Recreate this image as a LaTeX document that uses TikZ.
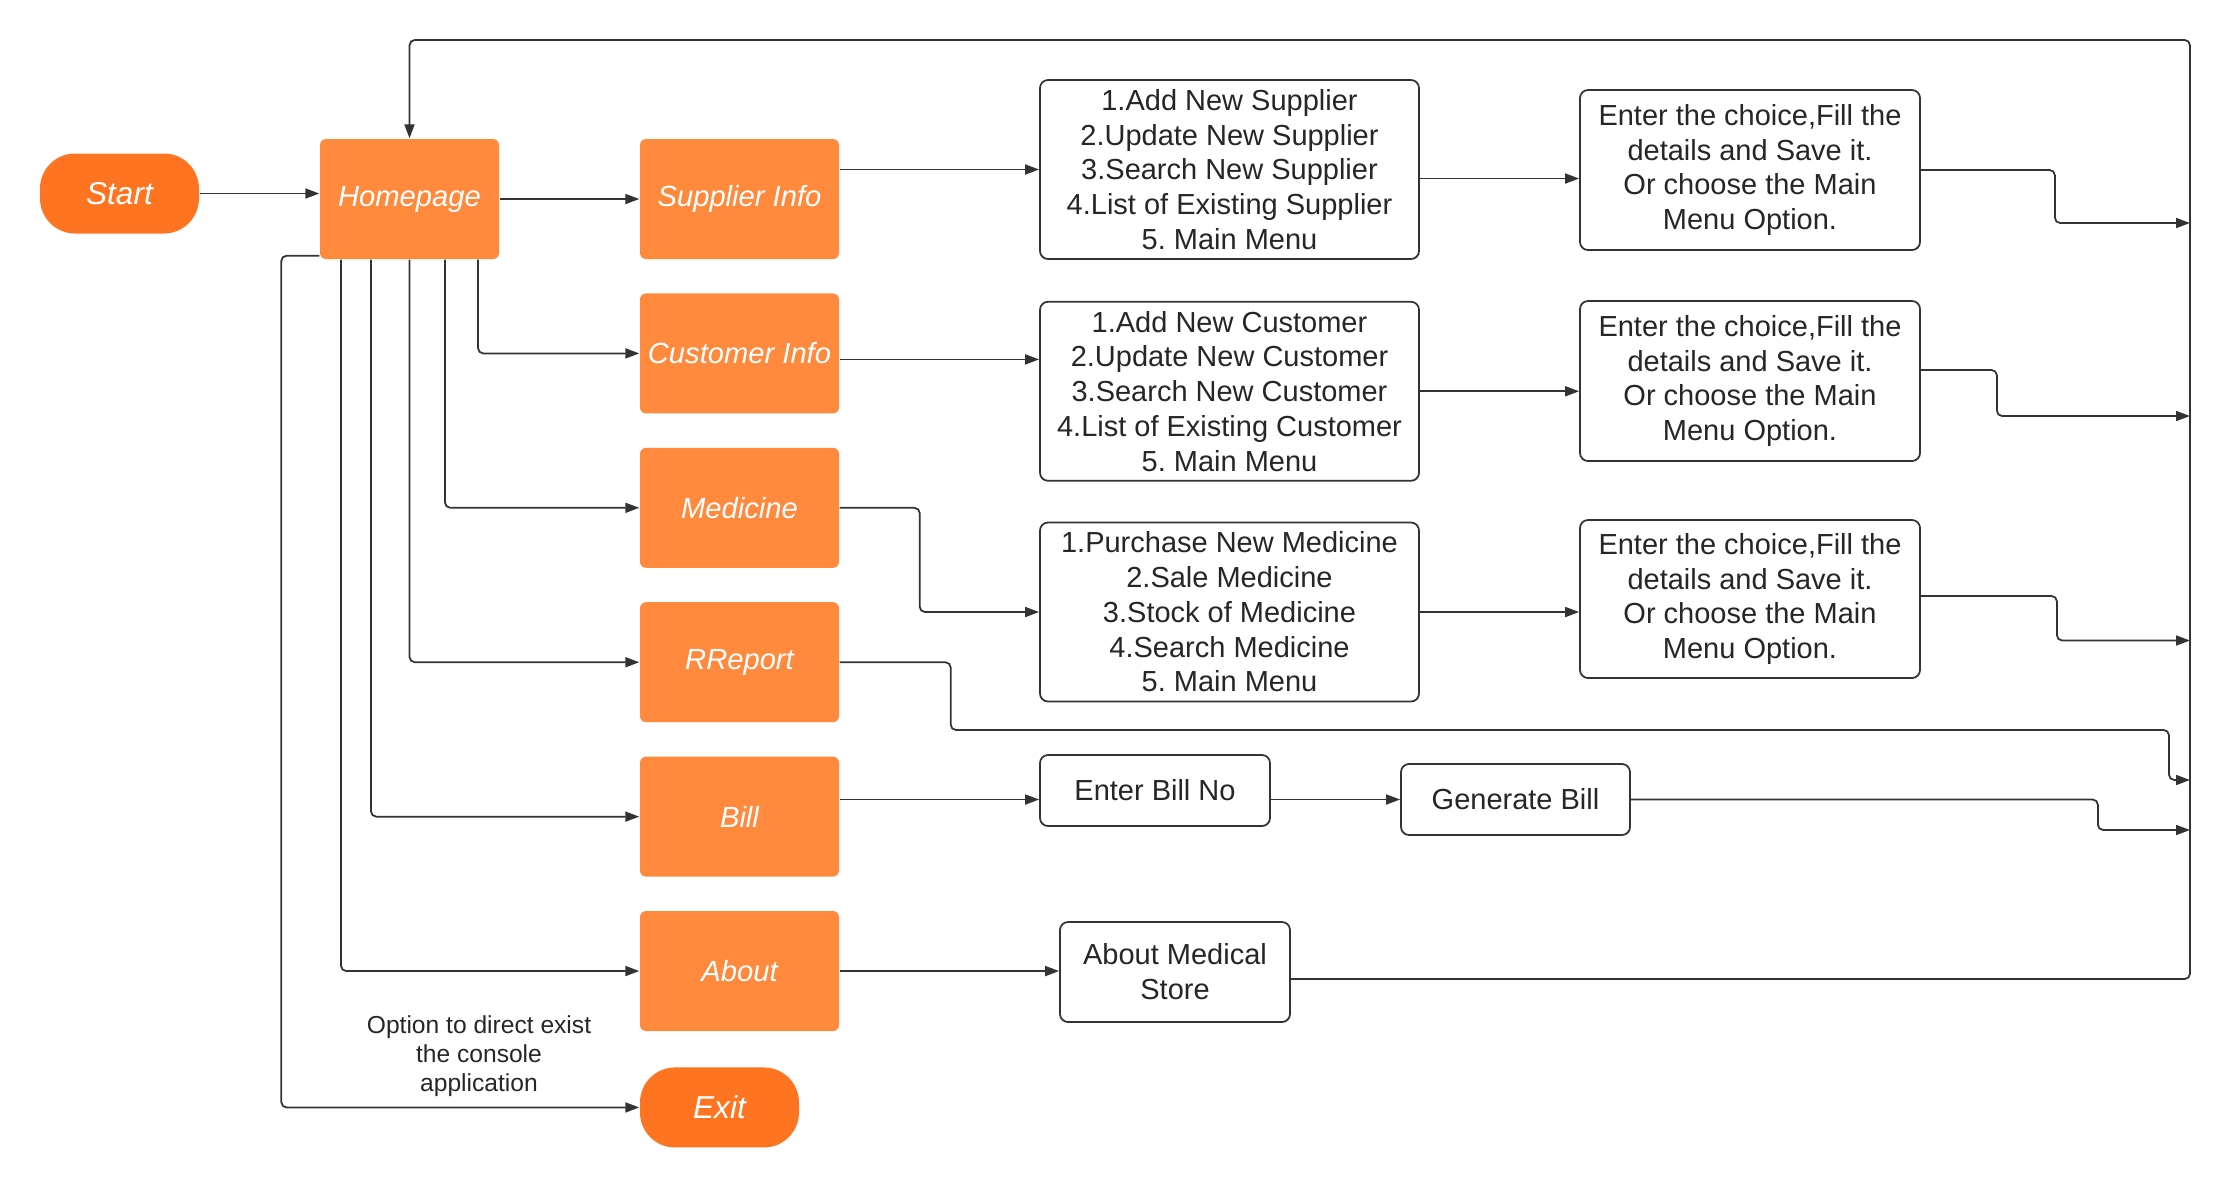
\documentclass[tikz,border=0pt]{standalone}
\usepackage{fontspec}
\setmainfont{Liberation Sans}
\usepackage{tikz}
\usetikzlibrary{arrows.meta,positioning}
\definecolor{boxorange}{HTML}{FF8A3D}
\definecolor{termorange}{HTML}{FF7420}
\definecolor{linegray}{HTML}{333333}
\frenchspacing

\begin{document}
\begin{tikzpicture}[
  term/.style={rectangle, fill=termorange, rounded corners=3.5mm, minimum width=1.59cm, minimum height=0.8cm, inner sep=0pt, text=white, font=\fontsize{9}{11}\selectfont\itshape},
  block/.style={rectangle, fill=boxorange, rounded corners=0.6mm, minimum width=1.99cm, minimum height=1.2cm, inner sep=0pt, text=white, font=\fontsize{8.3}{10}\selectfont\itshape},
  menu/.style={rectangle, draw=linegray, line width=0.5pt, rounded corners=0.8mm, fill=white, inner sep=0pt, align=center, text=black!85, font=\fontsize{8.25}{9.9}\selectfont},
  note/.style={align=center, text=black!85, font=\fontsize{7}{8.3}\selectfont},
  arrow/.style={-{Triangle[length=1.4mm, width=1mm]}, draw=linegray, line width=0.5pt, rounded corners=1.5pt}]
\useasboundingbox (0,0) rectangle (22.3,-11.88);

% left column
\node[term] (start) at (1.195,-1.935) {Start};
\node[block, minimum width=1.79cm] (home) at (4.095,-1.99) {Homepage};
\node[block] (sup) at (7.395,-1.99) {Supplier Info};
\node[block, below=0.33cm of sup] (cus) {Customer Info};
\node[block, below=0.33cm of cus] (med) {Medicine};
\node[block, below=0.33cm of med] (rep) {RReport};
\node[block, below=0.33cm of rep] (bill) {Bill};
\node[block, below=0.33cm of bill] (about) {About};
\node[term, below right=0.35cm and 0cm of about.south west] (exit) {Exit};
\node[note] (opt) at (4.79,-10.56) {Option to direct exist\\the console\\application};

% menus
\node[menu, minimum width=3.79cm, minimum height=1.79cm] (smenu) at (12.295,-1.695) {1.Add New Supplier\\2.Update New Supplier\\3.Search New Supplier\\4.List of Existing Supplier\\5. Main Menu};
\node[menu, minimum width=3.79cm, minimum height=1.79cm, below=0.41cm of smenu] (cmenu) {1.Add New Customer\\2.Update New Customer\\3.Search New Customer\\4.List of Existing Customer\\5. Main Menu};
\node[menu, minimum width=3.79cm, minimum height=1.79cm, below=0.40cm of cmenu] (mmenu) {1.Purchase New Medicine\\2.Sale Medicine\\3.Stock of Medicine\\4.Search Medicine\\5. Main Menu};
\node[menu, minimum width=3.4cm, minimum height=1.6cm] (schoice) at (17.5,-1.70) {Enter the choice,Fill the\\details and Save it.\\Or choose the Main\\Menu Option.};
\node[menu, minimum width=3.4cm, minimum height=1.6cm] (cchoice) at (17.5,-3.81) {Enter the choice,Fill the\\details and Save it.\\Or choose the Main\\Menu Option.};
\node[menu, minimum width=3.4cm, minimum height=1.58cm] (mchoice) at (17.5,-5.99) {Enter the choice,Fill the\\details and Save it.\\Or choose the Main\\Menu Option.};
\node[menu, minimum width=2.3cm, minimum height=0.71cm] (billno) at (11.55,-7.905) {Enter Bill No};
\node[menu, minimum width=2.29cm, minimum height=0.71cm] (genbill) at (15.155,-7.995) {Generate Bill};
\node[menu, minimum width=2.3cm, minimum height=1.0cm] (aboutms) at (11.75,-9.72) {About Medical\\Store};
\coordinate (back) at (21.9,-0.4);

% connectors
\draw[arrow] (start) -- (start -| home.west);
\draw[arrow] (home) -- (sup);
\draw[arrow] ([xshift=6.85mm]home.south) |- (cus);
\draw[arrow] ([xshift=3.55mm]home.south) |- (med);
\draw[arrow] (home.south) |- (rep);
\draw[arrow] ([xshift=-3.85mm]home.south) |- (bill);
\draw[arrow] ([xshift=-6.85mm]home.south) |- (about);
\draw[arrow] ([yshift=0.4mm]home.south west) -- ++(-0.38,0) |- (exit);
\draw[arrow] (sup.east |- smenu) -- (smenu);
\draw[arrow] ([yshift=-0.6mm]cus.east) -- ([yshift=-0.6mm]cus.east -| cmenu.west);
\draw[arrow] (med.east) -- ++(0.8,0) |- (mmenu);
\draw[arrow] ([yshift=-0.9mm]smenu.east) -- ([yshift=-0.9mm]smenu.east -| schoice.west);
\draw[arrow] (cmenu) -- (cmenu -| cchoice.west);
\draw[arrow] (mmenu) -- (mmenu -| mchoice.west);
\draw[arrow] (bill.east |- genbill) -- (billno.west |- genbill);
\draw[arrow] (billno.east |- genbill) -- (genbill);
\draw[arrow] (about) -- (about -| aboutms.west);
% back to the main menu
\draw[arrow] (schoice.east) -- ++(1.34,0) |- (back |- 0,-2.23);
\draw[arrow] ([yshift=1.1mm]cchoice.east) -- ++(0.76,0) |- (back |- 0,-4.16);
\draw[arrow] ([yshift=0.3mm]mchoice.east) -- ++(1.36,0) |- (back |- 0,-6.405);
\draw[arrow] (rep.east) -- ++(1.11,0) |- (21.69,-7.3) |- (back |- 0,-7.8);
\draw[arrow] (genbill.east) -- ++(4.67,0) |- (back |- 0,-8.30);
\draw[arrow] ([yshift=-0.7mm]aboutms.east) -| (back) -| (home.north);
\end{tikzpicture}
\end{document}
